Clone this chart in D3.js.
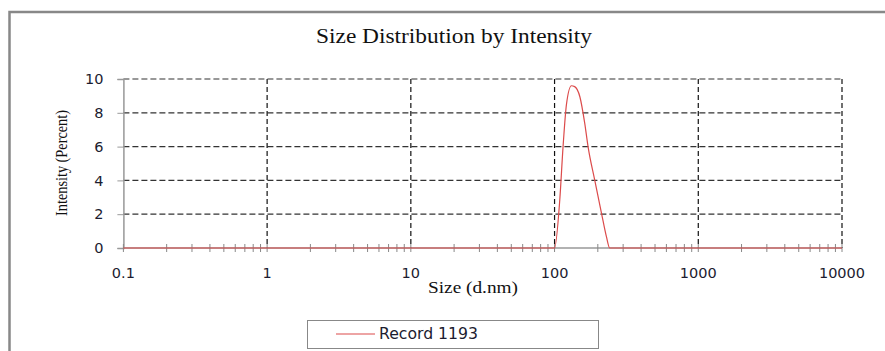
<!DOCTYPE html>
<html><head><meta charset="utf-8">
<script src="https://cdn.jsdelivr.net/npm/d3@7"></script>
<style>body{margin:0;background:#fff}svg{display:block}</style>
</head><body>
<svg id="c" width="885" height="351"></svg>
<script>
const sizes =     [0.1, 100, 108.7, 114.6, 121, 131, 138, 150, 162, 171, 190.5, 212, 229.5, 242, 10000];
const intensity = [0,   0,   2.84,  6.0,   8.5, 9.6, 9.55, 8.95, 7.4, 6.0, 4.0,  2.07, 0.67, 0,   0];
const xTicks = [0.1, 1, 10, 100, 1000, 10000];
const yTicks = [0, 2, 4, 6, 8, 10];
const seriesName = "Record 1193";

const svg = d3.select("#c");
const x = d3.scaleLog().domain([0.1, 10000]).range([123.4, 842]);
const y = d3.scaleLinear().domain([0, 10]).range([248, 79]);
const sans = "'DejaVu Sans', sans-serif";
const serif = "'Liberation Serif', serif";
const labelColor = "#1c1c30";

// outer frame
svg.append("path").attr("d","M9.5,351 V12 H885").attr("fill","none").attr("stroke","#888").attr("stroke-width",2.5);

// title
svg.append("text").attr("x",454).attr("y",43).attr("text-anchor","middle")
  .attr("font-family",serif).attr("font-size",20).attr("fill","#111")
  .attr("textLength",276).attr("lengthAdjust","spacingAndGlyphs")
  .text("Size Distribution by Intensity");

// horizontal grid
svg.append("g").selectAll("line").data(yTicks.filter(d=>d>0)).join("line")
  .attr("x1",x(0.1)).attr("x2",x(10000)).attr("y1",d=>y(d)).attr("y2",d=>y(d))
  .attr("stroke","#333").attr("stroke-width",1.2).attr("stroke-dasharray","6,3");
// vertical grid
svg.append("g").selectAll("line").data(xTicks.filter(d=>d>0.1)).join("line")
  .attr("x1",d=>x(d)).attr("x2",d=>x(d)).attr("y1",y(10)).attr("y2",y(0))
  .attr("stroke","#111").attr("stroke-width",1.2).attr("stroke-dasharray","5,3");

// y axis
const yAxis = d3.axisLeft(y).tickValues(yTicks).tickSize(6).tickPadding(14);
const gy = svg.append("g").attr("transform",`translate(${x(0.1)},0)`).call(yAxis);
gy.select(".domain").attr("stroke","#999").attr("stroke-width",1.5);
gy.selectAll(".tick line").attr("stroke","#999");
gy.selectAll("text").attr("font-family",sans).attr("font-size",14.5).attr("fill",labelColor);

// x axis with minor ticks
const minor = [];
for (let e=-1; e<4; e++) for (let m=1; m<10; m++) minor.push(m*Math.pow(10,e));
minor.push(10000);
svg.append("line").attr("x1",x(0.1)).attr("x2",x(10000)).attr("y1",y(0)).attr("y2",y(0)).attr("stroke","#999").attr("stroke-width",1.5);
svg.append("g").selectAll("line").data(minor).join("line")
  .attr("x1",d=>x(d)).attr("x2",d=>x(d)).attr("y1",y(0)-4).attr("y2",y(0)+4)
  .attr("stroke","#888").attr("stroke-width",1);
svg.append("g").selectAll("text").data(xTicks).join("text")
  .attr("x",d=>x(d)).attr("y",278).attr("text-anchor","middle")
  .attr("font-family",sans).attr("font-size",14.5).attr("fill",labelColor)
  .text(d=>d3.format("~g")(d));

// axis titles
svg.append("text").attr("x",473).attr("y",293).attr("text-anchor","middle")
  .attr("font-family",serif).attr("font-size",16).attr("fill","#111")
  .attr("textLength",90).attr("lengthAdjust","spacingAndGlyphs")
  .text("Size (d.nm)");
svg.append("text").attr("transform","translate(67,163) rotate(-90)").attr("text-anchor","middle")
  .attr("font-family",serif).attr("font-size",16).attr("fill","#111")
  .attr("textLength",106).attr("lengthAdjust","spacingAndGlyphs")
  .text("Intensity (Percent)");

// data line
const line = d3.line().x(d=>x(d[0])).y(d=>y(d[1])).curve(d3.curveMonotoneX);
svg.append("path").datum(sizes.map((s,i)=>[s,intensity[i]]))
  .attr("d",line).attr("fill","none").attr("stroke","#dc4b4b").attr("stroke-width",1.2);

// legend
svg.append("rect").attr("x",307.5).attr("y",320.5).attr("width",291).attr("height",28)
  .attr("fill","#fff").attr("stroke","#888").attr("stroke-width",1);
svg.append("line").attr("x1",336).attr("x2",375).attr("y1",334).attr("y2",334).attr("stroke","#dc4b4b").attr("stroke-width",1.2);
svg.append("text").attr("x",379).attr("y",339).attr("font-family",sans).attr("font-size",15).attr("fill",labelColor)
  .attr("textLength",99).attr("lengthAdjust","spacingAndGlyphs").text(seriesName);
</script>
</body></html>
